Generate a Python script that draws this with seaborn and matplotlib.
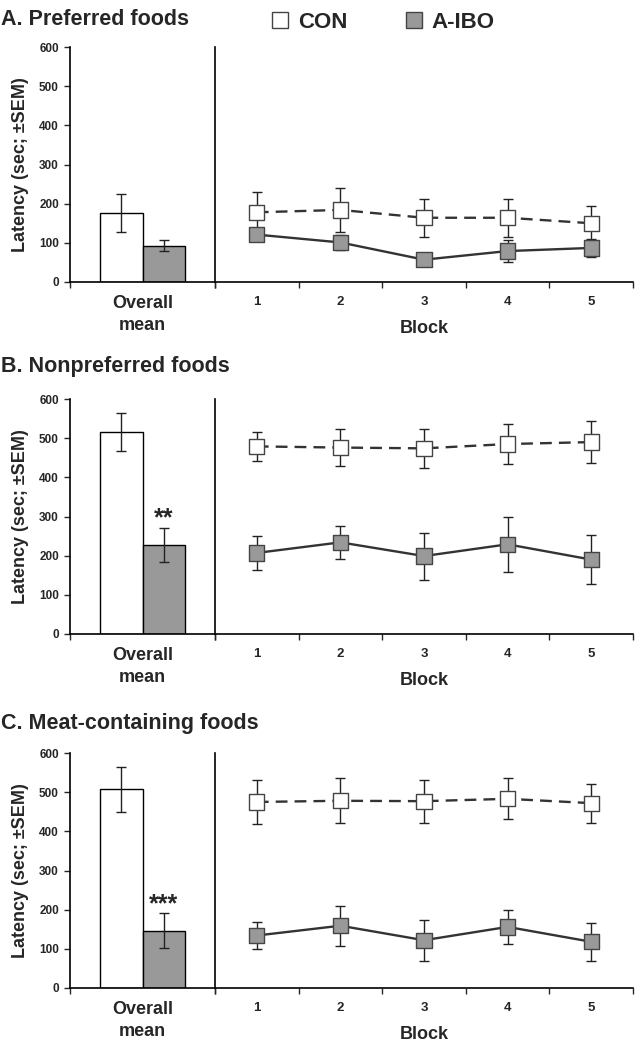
import pandas as pd
import matplotlib
matplotlib.use('Agg')
import matplotlib.pyplot as plt
from matplotlib.lines import Line2D
import seaborn as sns

# ── Data (latency in sec, mean and SEM) ───────────────────────────────────────
groups = ["CON", "A-IBO"]
blocks = [1, 2, 3, 4, 5]

pref_overall_mean = [176, 92]
pref_overall_sem = [48, 14]
pref_con_mean = [178, 184, 164, 164, 150]
pref_con_sem = [53, 56, 48, 48, 44]
pref_ibo_mean = [121, 101, 57, 79, 87]
pref_ibo_sem = [12, 20, 10, 28, 22]

nonpref_overall_mean = [515, 227]
nonpref_overall_sem = [49, 44]
nonpref_con_mean = [479, 476, 474, 485, 490]
nonpref_con_sem = [38, 48, 49, 52, 53]
nonpref_ibo_mean = [207, 234, 199, 229, 190]
nonpref_ibo_sem = [44, 43, 60, 70, 63]

meat_overall_mean = [507, 146]
meat_overall_sem = [57, 45]
meat_con_mean = [475, 478, 477, 483, 472]
meat_con_sem = [57, 57, 55, 52, 50]
meat_ibo_mean = [134, 159, 122, 156, 118]
meat_ibo_sem = [35, 51, 52, 44, 49]

panel_titles = ["A. Preferred foods", "B. Nonpreferred foods", "C. Meat-containing foods"]
panel_stars = ["", "**", "***"]

# ── Style ─────────────────────────────────────────────────────────────────────
sns.set_style('ticks')
plt.rcParams['font.family'] = ['Liberation Sans', 'DejaVu Sans']
plt.rcParams['font.weight'] = 'bold'
plt.rcParams['axes.labelweight'] = 'bold'
plt.rcParams['axes.linewidth'] = 1.2
plt.rcParams['axes.edgecolor'] = 'black'

FILL = {'CON': 'white', 'A-IBO': '#999999'}
LINE = '#333333'
W, H = 640, 1050

fig = plt.figure(figsize=(W / 100, H / 100), dpi=100)


def draw_panel(bottom_px, title, title_base_px, overall_mean, overall_sem,
               con_mean, con_sem, ibo_mean, ibo_sem, stars):
    h = 235 / H
    y0 = 1 - bottom_px / H
    ax_bar = fig.add_axes([70 / W, y0, 145 / W, h])
    ax_blk = fig.add_axes([215 / W, y0, 418 / W, h], sharey=ax_bar)

    # overall mean bars
    bar_df = pd.DataFrame({'x': ['Overall\nmean'] * 2, 'group': groups,
                           'latency': overall_mean})
    sns.barplot(data=bar_df, x='x', y='latency', hue='group', hue_order=groups,
                palette=FILL, saturation=1, edgecolor='black', linewidth=1,
                errorbar=None, legend=False, ax=ax_bar)
    centers = [p.get_x() + p.get_width() / 2 for p in ax_bar.patches]
    ax_bar.errorbar(centers, overall_mean, yerr=overall_sem, fmt='none',
                    ecolor='#222222', elinewidth=1, capsize=3.5, capthick=1, zorder=3)
    if stars:
        ax_bar.text(centers[1], overall_mean[1] + overall_sem[1] + 6, stars,
                    ha='center', va='baseline', fontsize=18)

    ax_bar.set_xlim(-0.69, 0.69)
    ax_bar.set_ylim(0, 600)
    ax_bar.set_yticks(range(0, 601, 100))
    ax_bar.set_xticks([-0.69, 0.69], minor=True)
    ax_bar.tick_params(axis='x', which='major', length=0, pad=9, labelsize=13)
    ax_bar.tick_params(axis='x', which='minor', length=4, width=1, direction='out')
    ax_bar.tick_params(axis='y', length=4, width=1, pad=4, labelsize=8.5)
    for lbl in ax_bar.get_xticklabels():
        lbl.set_linespacing(1.45)
    ax_bar.set_xlabel('')
    ax_bar.set_ylabel('Latency (sec; \u00b1SEM)', fontsize=13, labelpad=7)

    # block-by-block lines
    line_df = pd.DataFrame({'block': blocks * 2,
                            'group': ['CON'] * 5 + ['A-IBO'] * 5,
                            'latency': con_mean + ibo_mean,
                            'sem': con_sem + ibo_sem})
    sns.lineplot(data=line_df, x='block', y='latency', hue='group', style='group',
                 hue_order=groups, style_order=groups,
                 palette={'CON': LINE, 'A-IBO': LINE},
                 dashes={'CON': (5, 3), 'A-IBO': ''},
                 linewidth=1.7, legend=False, ax=ax_blk, zorder=1)
    for g, m, s in [('CON', con_mean, con_sem), ('A-IBO', ibo_mean, ibo_sem)]:
        ax_blk.errorbar(blocks, m, yerr=s, fmt='none', ecolor='#222222',
                        elinewidth=1, capsize=3.5, capthick=1, zorder=2)
    sns.scatterplot(data=line_df, x='block', y='latency', hue='group',
                    hue_order=groups, palette=FILL, marker='s', s=120,
                    edgecolor='#444444', linewidth=1, legend=False,
                    ax=ax_blk, zorder=4)

    ax_blk.set_xlim(0.5, 5.5)
    ax_blk.set_xticks(blocks)
    ax_blk.set_xticks([b + 0.5 for b in [0] + blocks], minor=True)
    ax_blk.tick_params(axis='x', which='major', length=0, pad=10, labelsize=9.5)
    ax_blk.tick_params(axis='x', which='minor', length=4, width=1, direction='out')
    ax_blk.tick_params(axis='y', left=False, labelleft=False)
    ax_blk.set_xlabel('Block', fontsize=13, labelpad=9)
    ax_blk.set_ylabel('')

    sns.despine(ax=ax_bar)
    sns.despine(ax=ax_blk)

    fig.text(0.002, 1 - title_base_px / H, title, fontsize=15.5,
             ha='left', va='baseline')


draw_panel(282, panel_titles[0], 25, pref_overall_mean, pref_overall_sem,
           pref_con_mean, pref_con_sem, pref_ibo_mean, pref_ibo_sem, panel_stars[0])
draw_panel(634, panel_titles[1], 372, nonpref_overall_mean, nonpref_overall_sem,
           nonpref_con_mean, nonpref_con_sem, nonpref_ibo_mean, nonpref_ibo_sem, panel_stars[1])
draw_panel(988, panel_titles[2], 729, meat_overall_mean, meat_overall_sem,
           meat_con_mean, meat_con_sem, meat_ibo_mean, meat_ibo_sem, panel_stars[2])

handles = [Line2D([], [], marker='s', ls='none', markersize=11,
                  markerfacecolor=FILL[g], markeredgecolor='#444444', markeredgewidth=1)
           for g in groups]
fig.legend(handles, groups, loc='center', bbox_to_anchor=(383 / W, 1 - 22 / H),
           ncol=2, frameon=False, fontsize=16, handlelength=0.8,
           handletextpad=0.4, columnspacing=2.6)

fig.savefig('out.png', dpi=100)
